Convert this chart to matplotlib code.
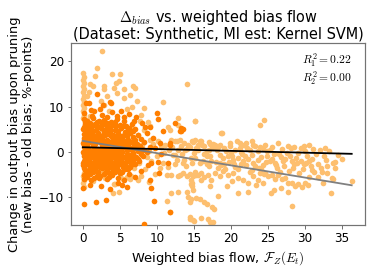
import numpy as np
import matplotlib
matplotlib.use("Agg")
from matplotlib import pyplot as plt

plt.rcParams['mathtext.fontset'] = 'cm'
plt.rcParams['font.family'] = 'DejaVu Sans'

# colours (Paired light / dark orange)
LIGHT = '#fdbf6f'
DARK = '#ff7f00'

# ---- light orange series (all pairs: bias flow, change in bias)
light_column = [(0.0, 17.3), (0.1, 16.6), (0.0, 15.9), (0.2, 15.2), (0.0, 14.5),
                (0.1, 13.8), (0.0, 13.1), (0.2, 12.4), (0.0, 11.7), (0.1, 11.0),
                (0.0, 10.3), (0.2, 9.6), (0.0, 8.9), (0.1, 8.2), (0.0, 7.5),
                (0.1, -4.6), (0.0, -5.4), (0.2, -6.2), (0.0, -7.0), (0.1, -7.8)]

light_upper = [(2.6, 22.2), (1.9, 18.5), (3.9, 17.1), (5.0, 17.2), (1.0, 14.9),
               (1.3, 14.5), (2.9, 14.5), (2.9, 13.8), (4.5, 15.2), (4.9, 15.6),
               (4.2, 14.1), (6.7, 14.5), (7.0, 14.1), (5.5, 13.8), (3.2, 12.3),
               (5.6, 11.9), (2.5, 11.2), (2.9, 10.4), (0.6, 12.3), (6.6, 9.9),
               (5.9, 9.5), (10.8, 10.9), (7.8, 8.2), (8.8, 6.6), (7.7, 6.7),
               (9.1, 5.6), (14.0, 14.9), (15.1, 6.8), (18.7, 4.1), (12.8, 7.5),
               (15.2, 6.9), (12.9, 6.0), (11.5, 5.4), (11.8, 4.9), (24.4, 7.0),
               (23.9, 6.0), (18.8, 4.2), (1.6, 16.8), (0.8, 13.3), (3.5, 9.0),
               (7.3, 11.3), (8.3, 9.6), (4.6, 12.9), (6.3, 12.6), (4.0, 6.4),
               (2.1, 6.0), (2.6, 5.1), (1.0, 8.0), (0.5, 7.0)]

light_lower_left = [(0.5, -4.0), (2.2, -3.9), (2.6, -4.3), (3.7, -3.6), (5.0, -5.3),
                    (5.4, -6.0), (5.9, -5.5), (6.3, -6.0), (6.5, -5.4), (7.4, -6.2),
                    (4.2, -7.2), (4.4, -7.2), (4.0, -9.1), (4.9, -8.8), (7.8, -5.3),
                    (8.9, -6.6), (1.4, -6.5), (3.0, -5.8), (8.4, -3.8), (6.8, 5.0),
                    (7.5, 3.6), (8.2, 4.8), (9.0, 2.6), (8.0, 1.5), (8.7, -1.2),
                    (7.6, -2.4), (6.9, -3.6)]

light_mid = [(12.4, 2.3), (13.1, 2.6), (13.7, 1.9), (14.2, 1.5), (14.9, 2.1),
             (15.5, 1.5), (16.0, 2.3), (16.4, 1.2), (17.1, 1.8), (17.6, 0.8),
             (12.4, -0.7), (13.7, -1.8), (14.6, -1.4), (15.8, -2.5), (16.7, -1.0),
             (17.3, -2.1), (13.1, -5.1), (13.5, -4.7), (14.0, -5.4), (14.4, -4.9),
             (14.9, -5.3), (15.3, -5.1), (16.0, -4.7), (16.4, -5.5), (16.9, -5.1),
             (14.6, -7.1), (16.0, -6.2), (17.3, -6.2), (17.1, -7.6), (11.9, -9.0),
             (12.8, -8.8), (14.0, -8.8), (14.2, -9.9), (14.4, -11.0), (15.3, -10.2),
             (15.8, -10.4), (16.4, -11.0), (18.2, -9.7), (11.8, -13.2), (14.4, -14.4),
             (14.9, -15.0), (16.0, -14.6), (16.9, -14.8), (17.1, -15.6), (17.6, -15.6),
             (16.7, -11.6), (17.5, -12.1), (17.7, -12.6), (14.6, -10.5), (11.3, -10.8),
             (14.5, -14.8), (15.0, -15.2), (12.7, 2.3), (14.7, 2.3), (15.2, 2.6),
             (15.8, 2.3), (17.0, 2.2), (17.6, 1.8), (18.2, 1.0), (12.7, -1.8),
             (13.5, -2.4), (15.2, -1.3), (11.3, -5.1), (11.9, -5.2), (12.8, -5.3),
             (14.6, -6.2), (14.7, -6.9), (14.8, -7.6), (14.9, -8.4), (15.2, -4.4),
             (15.6, -5.2), (18.5, -2.5), (10.5, 1.0), (11.0, -0.2), (11.6, 0.5),
             (12.2, -0.8), (12.9, 0.3), (13.4, -0.5), (14.1, 0.6), (15.0, -0.3),
             (15.6, 0.4), (16.3, -0.4), (17.0, 0.5), (10.8, -2.5), (11.5, -3.4),
             (9.2, -2.1), (10.0, -1.0), (9.4, 1.8), (8.9, 0.2),
             (10.2, 2.4), (11.1, 1.6), (11.9, 2.7), (12.0, 1.1), (13.3, 1.2),
             (13.8, 0.3), (14.5, 1.0), (15.3, 0.9), (16.1, 1.5), (16.8, 0.1),
             (17.4, 1.2), (12.5, -2.7), (13.9, -3.2), (14.8, -2.4), (16.2, -2.0),
             (17.0, -3.1), (10.4, -3.6), (9.8, -5.0)]

light_right = [(17.8, 1.5), (18.5, 1.5), (19.1, 0.8), (19.8, 1.2), (20.5, 0.4),
               (21.2, 0.8), (21.8, 1.5), (22.5, 0.3), (23.0, 1.5), (23.3, 1.2),
               (23.6, 0.2), (24.3, 0.8), (24.8, 0.1), (18.5, -0.7), (18.9, -1.4),
               (19.6, -1.0), (20.3, -1.8), (20.9, -1.4), (21.6, -2.1), (22.3, -1.6),
               (23.0, -2.5), (23.6, -1.9), (24.3, -2.9), (17.8, -4.7), (18.5, -5.4),
               (18.9, -4.3), (19.6, -5.1), (20.3, -4.7), (20.9, -5.8), (21.6, -6.2),
               (22.3, -6.9), (23.0, -5.4), (23.6, -6.2), (24.3, -6.9), (20.9, -9.1),
               (22.3, -8.8), (19.3, 0.2), (20.0, -0.3), (21.5, -0.5), (22.0, -3.0),
               (22.8, -0.8), (23.8, -3.5), (24.0, -1.2), (19.0, -2.8), (20.6, -3.3),
               (18.2, -3.6), (21.0, -3.8), (24.5, -4.8), (22.6, -4.4), (20.1, -6.5),
               (18.0, -2.2), (17.2, -0.9), (16.8, -2.6), (23.4, -7.4), (19.4, -7.6),
               (21.3, 0.0), (20.8, 2.3), (21.2, 1.9), (22.0, 1.9), (23.9, 1.0),
               (26.3, 1.9), (27.7, 1.2), (28.1, 0.9), (28.5, 1.1), (29.4, 0.8),
               (30.6, 1.5), (32.0, 0.3), (24.9, -1.0), (25.3, -2.1), (25.6, -1.5),
               (26.0, -2.4), (26.5, -0.4), (26.8, -1.2), (27.0, -2.1), (27.1, -3.2),
               (28.2, -2.1), (28.5, -2.8), (28.9, -2.5), (29.4, -2.1), (29.8, -2.8),
               (30.1, -2.5), (30.6, -2.1), (30.8, -3.2), (24.6, -4.7), (25.0, -5.3),
               (25.5, -5.1), (25.9, -6.1), (26.4, -5.1), (26.9, -6.1), (27.3, -5.8),
               (27.7, -6.8), (28.2, -6.8), (28.7, -7.5), (29.1, -7.1), (29.6, -7.8),
               (30.0, -6.8), (30.4, -7.4), (32.8, -1.8), (33.8, -2.5), (34.1, -2.2),
               (32.3, -4.4), (33.0, -4.7), (33.6, -5.8), (33.8, -6.0), (36.3, -6.5),
               (33.5, -9.0), (28.3, -11.9), (25.4, -9.0), (25.8, -8.4), (26.8, -8.0),
               (27.7, -8.8), (31.5, -0.5), (32.5, -1.0), (33.2, 0.1), (34.5, -0.8),
               (31.2, -4.5), (31.8, -5.5), (29.0, -0.3), (30.0, 0.2), (27.5, -0.2),
               (25.2, 0.4), (31.0, -1.5), (33.0, -3.2), (24.0, -3.8), (29.2, -4.6),
               (27.9, -4.2), (30.5, -5.6), (32.4, -7.0), (26.2, -3.6),
               (19.7, -2.3), (21.9, -1.0), (23.2, -3.1), (25.8, -0.5), (27.3, -1.6),
               (28.8, -1.4), (30.3, -1.0), (31.7, -2.6), (32.1, -3.6), (29.7, -3.8),
               (26.6, -4.4), (22.9, -4.0), (20.4, -2.6), (18.6, -3.0), (24.7, -2.3),
               (18.1, 0.4), (19.9, 2.0), (20.2, -0.9), (22.2, 0.9), (22.9, 2.4),
               (24.6, 1.6), (25.5, 1.1), (26.9, 0.6), (28.0, -0.9), (29.8, 1.2),
               (31.1, 0.6), (32.7, 0.8), (19.2, -3.9), (21.3, -2.7), (23.9, -4.6),
               (26.1, -2.9), (28.4, -3.6), (30.9, -4.0), (34.0, -3.6), (35.0, -1.5)]

# ---- dark orange series
dark_core = [
    (0.1, 7.2), (0.6, 6.8), (1.3, 7.4), (2.2, 6.9), (2.9, 7.1), (3.8, 6.6), (4.6, 7.3), (5.5, 6.8),
    (0.3, 6.1), (0.9, 5.7), (1.7, 6.2), (2.5, 5.8), (3.3, 6.3), (4.1, 5.9), (5.0, 6.0), (5.8, 5.6), (6.6, 6.2),
    (0.0, 5.0), (0.5, 4.7), (1.1, 5.3), (1.8, 4.8), (2.4, 5.2), (3.0, 4.7), (3.7, 5.1), (4.4, 4.8),
    (5.2, 5.2), (6.0, 4.6), (7.0, 5.1),
    (0.2, 3.9), (0.8, 4.2), (1.4, 3.7), (2.0, 4.1), (2.7, 3.8), (3.4, 4.2), (4.0, 3.7), (4.8, 4.0),
    (5.5, 3.6), (6.3, 4.1), (7.4, 3.8),
    (0.1, 3.0), (0.6, 2.7), (1.2, 3.2), (1.9, 2.8), (2.5, 3.1), (3.2, 2.7), (3.9, 3.2), (4.6, 2.8),
    (5.3, 3.1), (6.1, 2.6), (6.8, 3.2), (7.8, 2.8),
    (0.0, 2.0), (0.4, 1.7), (1.0, 2.2), (1.6, 1.8), (2.3, 2.1), (3.0, 1.7), (3.6, 2.2), (4.3, 1.8),
    (5.0, 2.1), (5.8, 1.7), (6.5, 2.2), (7.3, 1.8), (8.2, 2.1),
    (0.2, 1.1), (0.7, 0.8), (1.3, 1.2), (2.1, 0.7), (2.8, 1.1), (3.5, 0.8), (4.2, 1.2), (4.9, 0.7),
    (5.6, 1.1), (6.4, 0.8), (7.1, 1.2), (8.0, 0.7), (9.0, 1.0),
    (0.0, 0.0), (0.5, 0.3), (1.1, -0.2), (1.8, 0.2), (2.5, -0.1), (3.2, 0.3), (3.8, -0.2), (4.6, 0.2),
    (5.3, -0.1), (6.0, 0.3), (6.7, -0.2), (7.5, 0.2), (8.6, -0.1),
    (0.1, -1.0), (0.7, -0.7), (1.4, -1.2), (2.0, -0.8), (2.7, -1.1), (3.4, -0.7), (4.1, -1.2), (4.8, -0.8),
    (5.6, -1.1), (6.3, -0.7), (7.2, -1.2), (8.1, -0.9),
    (0.2, -2.0), (0.8, -1.7), (1.5, -2.2), (2.2, -1.8), (2.9, -2.1), (3.6, -1.7), (4.4, -2.2), (5.1, -1.8),
    (5.9, -2.1), (6.8, -1.8), (7.6, -2.1),
    (0.0, -3.0), (0.6, -2.7), (1.3, -3.2), (2.0, -2.8), (2.8, -3.1), (3.5, -2.7), (4.3, -3.2), (5.0, -2.8),
    (5.8, -3.1), (6.6, -2.8),
    (0.3, -4.0), (1.0, -3.7), (1.8, -4.2), (2.6, -3.6), (3.3, -4.1), (4.1, -3.8), (4.9, -4.2), (5.7, -3.7),
    (0.1, -5.1), (0.9, -4.8), (1.9, -5.3), (2.8, -4.9), (3.9, -5.2), (5.0, -4.7), (6.2, -5.0),
    (0.1, -6.0), (1.1, -6.2), (2.2, -5.8), (3.3, -6.1), (4.7, -5.9), (5.5, -6.3),
    (0.4, 6.5), (1.5, 5.9), (2.9, 6.2), (4.3, 6.6), (0.6, 3.4), (1.6, 2.4), (2.2, 3.5), (3.7, 4.3),
    (4.5, 3.3), (0.9, -0.3), (1.7, -1.6), (2.4, -2.5), (3.1, -3.6), (4.0, 0.6), (4.7, -1.5), (0.3, -1.5),
    (0.2, 2.5), (0.4, 4.4), (0.0, -2.4), (1.2, 4.3), (3.0, -4.6), (2.3, -5.4), (1.4, -4.5), (6.1, -3.8)]

dark_fill = [
    (0.3, 6.6), (1.0, 6.4), (1.9, 6.5), (2.6, 6.6), (3.5, 5.5), (4.5, 5.6), (5.4, 5.8), (6.2, 5.3),
    (0.2, 5.5), (0.7, 5.2), (1.4, 4.6), (2.1, 5.5), (2.8, 4.4), (3.3, 5.4), (4.7, 4.5), (5.7, 4.3), (6.7, 4.6),
    (0.4, 3.6), (1.0, 3.5), (1.7, 3.3), (2.4, 3.4), (3.0, 3.6), (3.6, 3.6), (4.3, 3.5), (5.1, 3.5), (5.9, 3.4),
    (0.3, 2.3), (0.8, 2.5), (1.3, 2.4), (2.0, 2.3), (2.7, 2.5), (3.3, 2.3), (4.0, 2.5), (4.8, 2.4), (5.5, 2.4),
    (6.2, 2.3), (7.0, 2.5),
    (0.1, 1.5), (0.6, 1.4), (1.5, 1.5), (2.6, 1.5), (3.3, 1.3), (4.0, 1.5), (4.6, 1.4), (5.3, 1.5), (6.1, 1.4),
    (6.9, 1.5), (7.7, 1.3),
    (0.3, 0.4), (0.8, 0.5), (1.5, 0.5), (2.3, 0.4), (3.0, 0.5), (3.6, 0.4), (4.3, 0.5), (5.1, 0.4), (5.9, 0.5),
    (6.6, 0.4), (7.3, 0.6), (8.3, 0.5),
    (0.2, -0.5), (1.3, -0.6), (2.2, -0.4), (2.9, -0.6), (3.6, -0.5), (4.4, -0.5), (5.0, -0.4), (5.9, -0.5),
    (6.8, -0.6), (7.8, -0.4),
    (0.4, -1.3), (1.0, -1.4), (1.8, -1.2), (2.5, -1.5), (3.1, -1.4), (3.8, -1.3), (4.5, -1.2), (5.3, -1.4),
    (6.0, -1.4), (6.6, -1.3), (7.5, -1.5),
    (0.4, -2.4), (1.1, -2.5), (1.9, -2.3), (2.6, -2.4), (3.3, -2.3), (4.0, -2.5), (4.7, -2.4), (5.5, -2.5),
    (6.3, -2.3), (7.1, -2.6),
    (0.2, -3.5), (0.9, -3.3), (1.6, -3.6), (2.3, -3.3), (3.8, -3.4), (4.6, -3.5), (5.4, -3.4), (6.3, -3.3),
    (0.5, -4.5), (2.1, -4.4), (3.6, -4.6), (4.4, -4.4), (5.3, -4.5), (0.6, -5.5), (1.5, -5.7), (3.5, -5.6)]

dark_sparse = [(1.9, 12.8), (3.8, 10.7), (0.4, 10.8), (0.8, 10.8), (2.7, 10.4), (1.1, 9.3),
               (1.5, 9.0), (2.3, 9.5), (3.9, 8.8), (5.1, 9.0), (10.0, 8.6), (10.1, 7.2),
               (12.4, 6.3), (13.3, 5.2), (10.8, 4.5), (13.5, 5.1), (13.1, 4.6), (6.2, 8.3),
               (7.2, 7.6), (8.0, 6.3), (9.1, 5.5), (8.6, 4.2), (9.5, 3.1), (10.4, 2.0),
               (9.8, 0.8), (10.6, -0.5), (11.7, 1.4), (11.7, 2.0), (13.2, 4.5), (11.5, -2.5),
               (9.2, -2.4), (10.2, -2.2), (10.3, -4.7), (9.0, -6.2), (9.2, -8.1), (4.7, -6.9),
               (5.3, -7.4), (6.0, -7.7), (0.2, -11.5), (1.8, -11.0), (3.1, -10.6), (9.6, -10.8),
               (8.3, -16.0), (11.7, -13.2), (0.0, -8.0), (0.9, -7.3), (2.5, -7.6), (3.7, -8.2),
               (7.1, -5.5), (7.9, -4.3), (8.8, -3.0), (3.6, 11.1), (0.2, 8.6), (4.6, 7.9),
               (6.9, 6.8), (8.4, 5.5), (1.2, 7.9), (2.6, 8.2), (3.2, 7.7), (5.6, 7.6)]

# ---- regression fits (intercept, slope) and their x-span
fit_light = (2.4, -0.27)
fit_dark = (1.0, -0.04)
fit_span = (0.0, 36.3)
r2_values = [0.22, 0.00]

light = np.array(light_column + light_upper + light_lower_left + light_mid + light_right)
dark = np.array(dark_core + dark_fill + dark_sparse)

fig = plt.figure(figsize=(374 / 72, 280 / 72), dpi=72)
ax = fig.add_axes([0.19, 0.196, 0.786, 0.65])

ax.scatter(light[:, 0], light[:, 1], s=32, color=LIGHT, linewidths=0, zorder=2)
ax.scatter(dark[:, 0], dark[:, 1], s=32, color=DARK, linewidths=0, zorder=3)

xs = np.array(fit_span)
ax.plot(xs, fit_light[0] + fit_light[1] * xs, color='gray', lw=1.8, zorder=4)
ax.plot(xs, fit_dark[0] + fit_dark[1] * xs, color='black', lw=1.8, zorder=5)

ax.text(0.955, 0.955, '$R_1^2 = %.2f$\n$R_2^2 = %.2f$' % tuple(r2_values),
        transform=ax.transAxes, ha='right', va='top', fontsize=11.5, linespacing=1.0)

ax.set_xlim(-1.6, 38.1)
ax.set_ylim(-16.2, 24.0)
ax.set_xticks([0, 5, 10, 15, 20, 25, 30, 35])
ax.set_yticks([-10, 0, 10, 20])
ax.tick_params(labelsize=12, direction='out', length=3.5, color='0.3')
for sp in ax.spines.values():
    sp.set_color('0.45')
    sp.set_linewidth(1.2)

ax.set_title('$\\Delta_{bias}$ vs. weighted bias flow\n(Dataset: Synthetic, MI est: Kernel SVM)',
             fontsize=14.5, linespacing=1.05, pad=4)
ax.set_xlabel('Weighted bias flow, $\\mathcal{F}_Z(E_t)$', fontsize=13)
ax.set_ylabel('Change in output bias upon pruning\n(new bias - old bias; %-points)',
              fontsize=13, linespacing=1.05)

fig.savefig('out.png', dpi=72)
